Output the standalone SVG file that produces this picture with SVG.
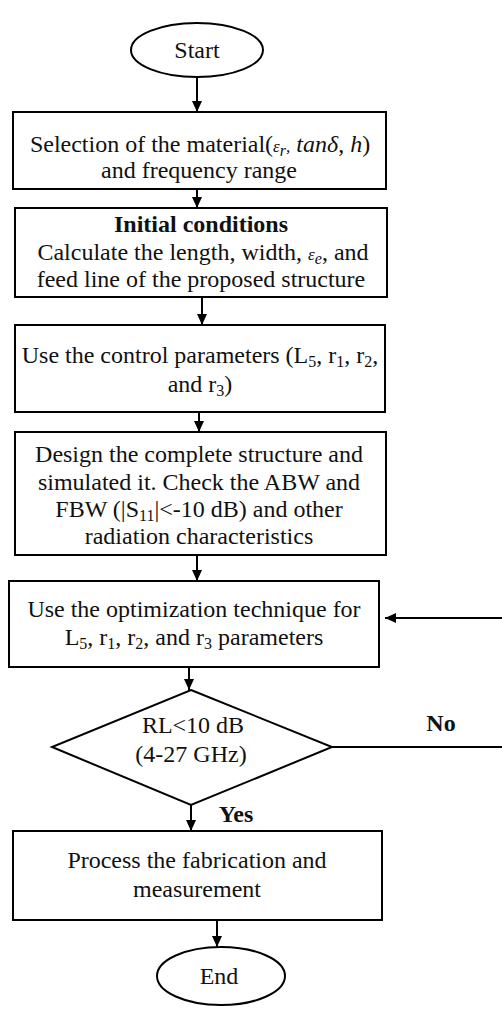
<svg xmlns="http://www.w3.org/2000/svg" width="502" height="1010" viewBox="0 0 502 1010">
<defs>
<marker id="arr" markerUnits="userSpaceOnUse" markerWidth="12" markerHeight="10" refX="11" refY="5" orient="auto">
<path d="M0,0 L11,5 L0,10 z" fill="#000"/>
</marker>
<style>
.shape{fill:#fff;stroke:#000;stroke-width:2}
.t{font-family:"Liberation Serif","Times New Roman",serif;font-size:24px;fill:#111;text-anchor:middle}
.b{font-weight:bold}
.i{font-style:italic}
.sm{font-size:17px}
.sub{font-size:16px;baseline-shift:-4px}
.c{stroke:#000;stroke-width:2;fill:none}
</style>
</defs>
<rect width="502" height="1010" fill="#fff"/>
<g id="connectors">
<line class="c" x1="197" y1="77" x2="197" y2="112" marker-end="url(#arr)"/>
<line class="c" x1="197" y1="189" x2="197" y2="208" marker-end="url(#arr)"/>
<line class="c" x1="202" y1="297" x2="202" y2="325" marker-end="url(#arr)"/>
<line class="c" x1="199" y1="412" x2="199" y2="432" marker-end="url(#arr)"/>
<line class="c" x1="197" y1="555" x2="197" y2="581" marker-end="url(#arr)"/>
<line class="c" x1="502" y1="618" x2="385" y2="618" marker-end="url(#arr)"/>
<line class="c" x1="189" y1="667" x2="189" y2="690" marker-end="url(#arr)"/>
<line class="c" x1="332" y1="747" x2="502" y2="747"/>
<line class="c" x1="191" y1="805" x2="191" y2="831" marker-end="url(#arr)"/>
<line class="c" x1="217" y1="920" x2="217" y2="947" marker-end="url(#arr)"/>
<text class="t b" x="441" y="731">No</text>
<text class="t b" x="236" y="822">Yes</text>
</g>
<g id="start">
<ellipse class="shape" cx="197" cy="50" rx="66" ry="27"/>
<text class="t" x="197" y="58">Start</text>
</g>
<g id="selection">
<rect class="shape" x="13" y="112" width="373" height="77"/>
<text class="t" x="200" y="152">Selection of the material(<tspan class="i sm">ε<tspan class="sub">r</tspan>,</tspan><tspan class="i"> tanδ</tspan>, <tspan class="i">h</tspan>)</text>
<text class="t" x="199" y="178">and frequency range</text>
</g>
<g id="initial">
<rect class="shape" x="15" y="208" width="372" height="89"/>
<text class="t b" x="201" y="232">Initial conditions</text>
<text class="t" x="203" y="260">Calculate the length, width, <tspan class="i sm">ε<tspan class="sub">e</tspan></tspan>, and</text>
<text class="t" x="201" y="287">feed line of the proposed structure</text>
</g>
<g id="control">
<rect class="shape" x="15" y="325" width="370" height="87"/>
<text class="t" x="200" y="363">Use the control parameters (L<tspan class="sub">5</tspan>, r<tspan class="sub">1</tspan>, r<tspan class="sub">2</tspan>,</text>
<text class="t" x="200" y="392">and r<tspan class="sub">3</tspan>)</text>
</g>
<g id="design">
<rect class="shape" x="15" y="432" width="371" height="123"/>
<text class="t" x="199" y="462">Design the complete structure and</text>
<text class="t" x="199" y="490">simulated it. Check the ABW and</text>
<text class="t" x="199" y="517">FBW (|S<tspan class="sub">11</tspan>|&lt;-10 dB) and other</text>
<text class="t" x="199" y="544">radiation characteristics</text>
</g>
<g id="optimization">
<rect class="shape" x="9" y="581" width="370" height="86"/>
<text class="t" x="194" y="617">Use the optimization technique for</text>
<text class="t" x="194" y="645">L<tspan class="sub">5</tspan>, r<tspan class="sub">1</tspan>, r<tspan class="sub">2</tspan>, and r<tspan class="sub">3</tspan> parameters</text>
</g>
<g id="decision">
<polygon class="shape" points="191,690 332,747 191,805 52,747"/>
<text class="t" x="193" y="733">RL&lt;10 dB</text>
<text class="t" x="191" y="762">(4-27 GHz)</text>
</g>
<g id="fabrication">
<rect class="shape" x="13" y="831" width="369" height="89"/>
<text class="t" x="197" y="868">Process the fabrication and</text>
<text class="t" x="197" y="897">measurement</text>
</g>
<g id="end">
<ellipse class="shape" cx="221" cy="976" rx="64" ry="29"/>
<text class="t" x="219" y="984">End</text>
</g>
</svg>
